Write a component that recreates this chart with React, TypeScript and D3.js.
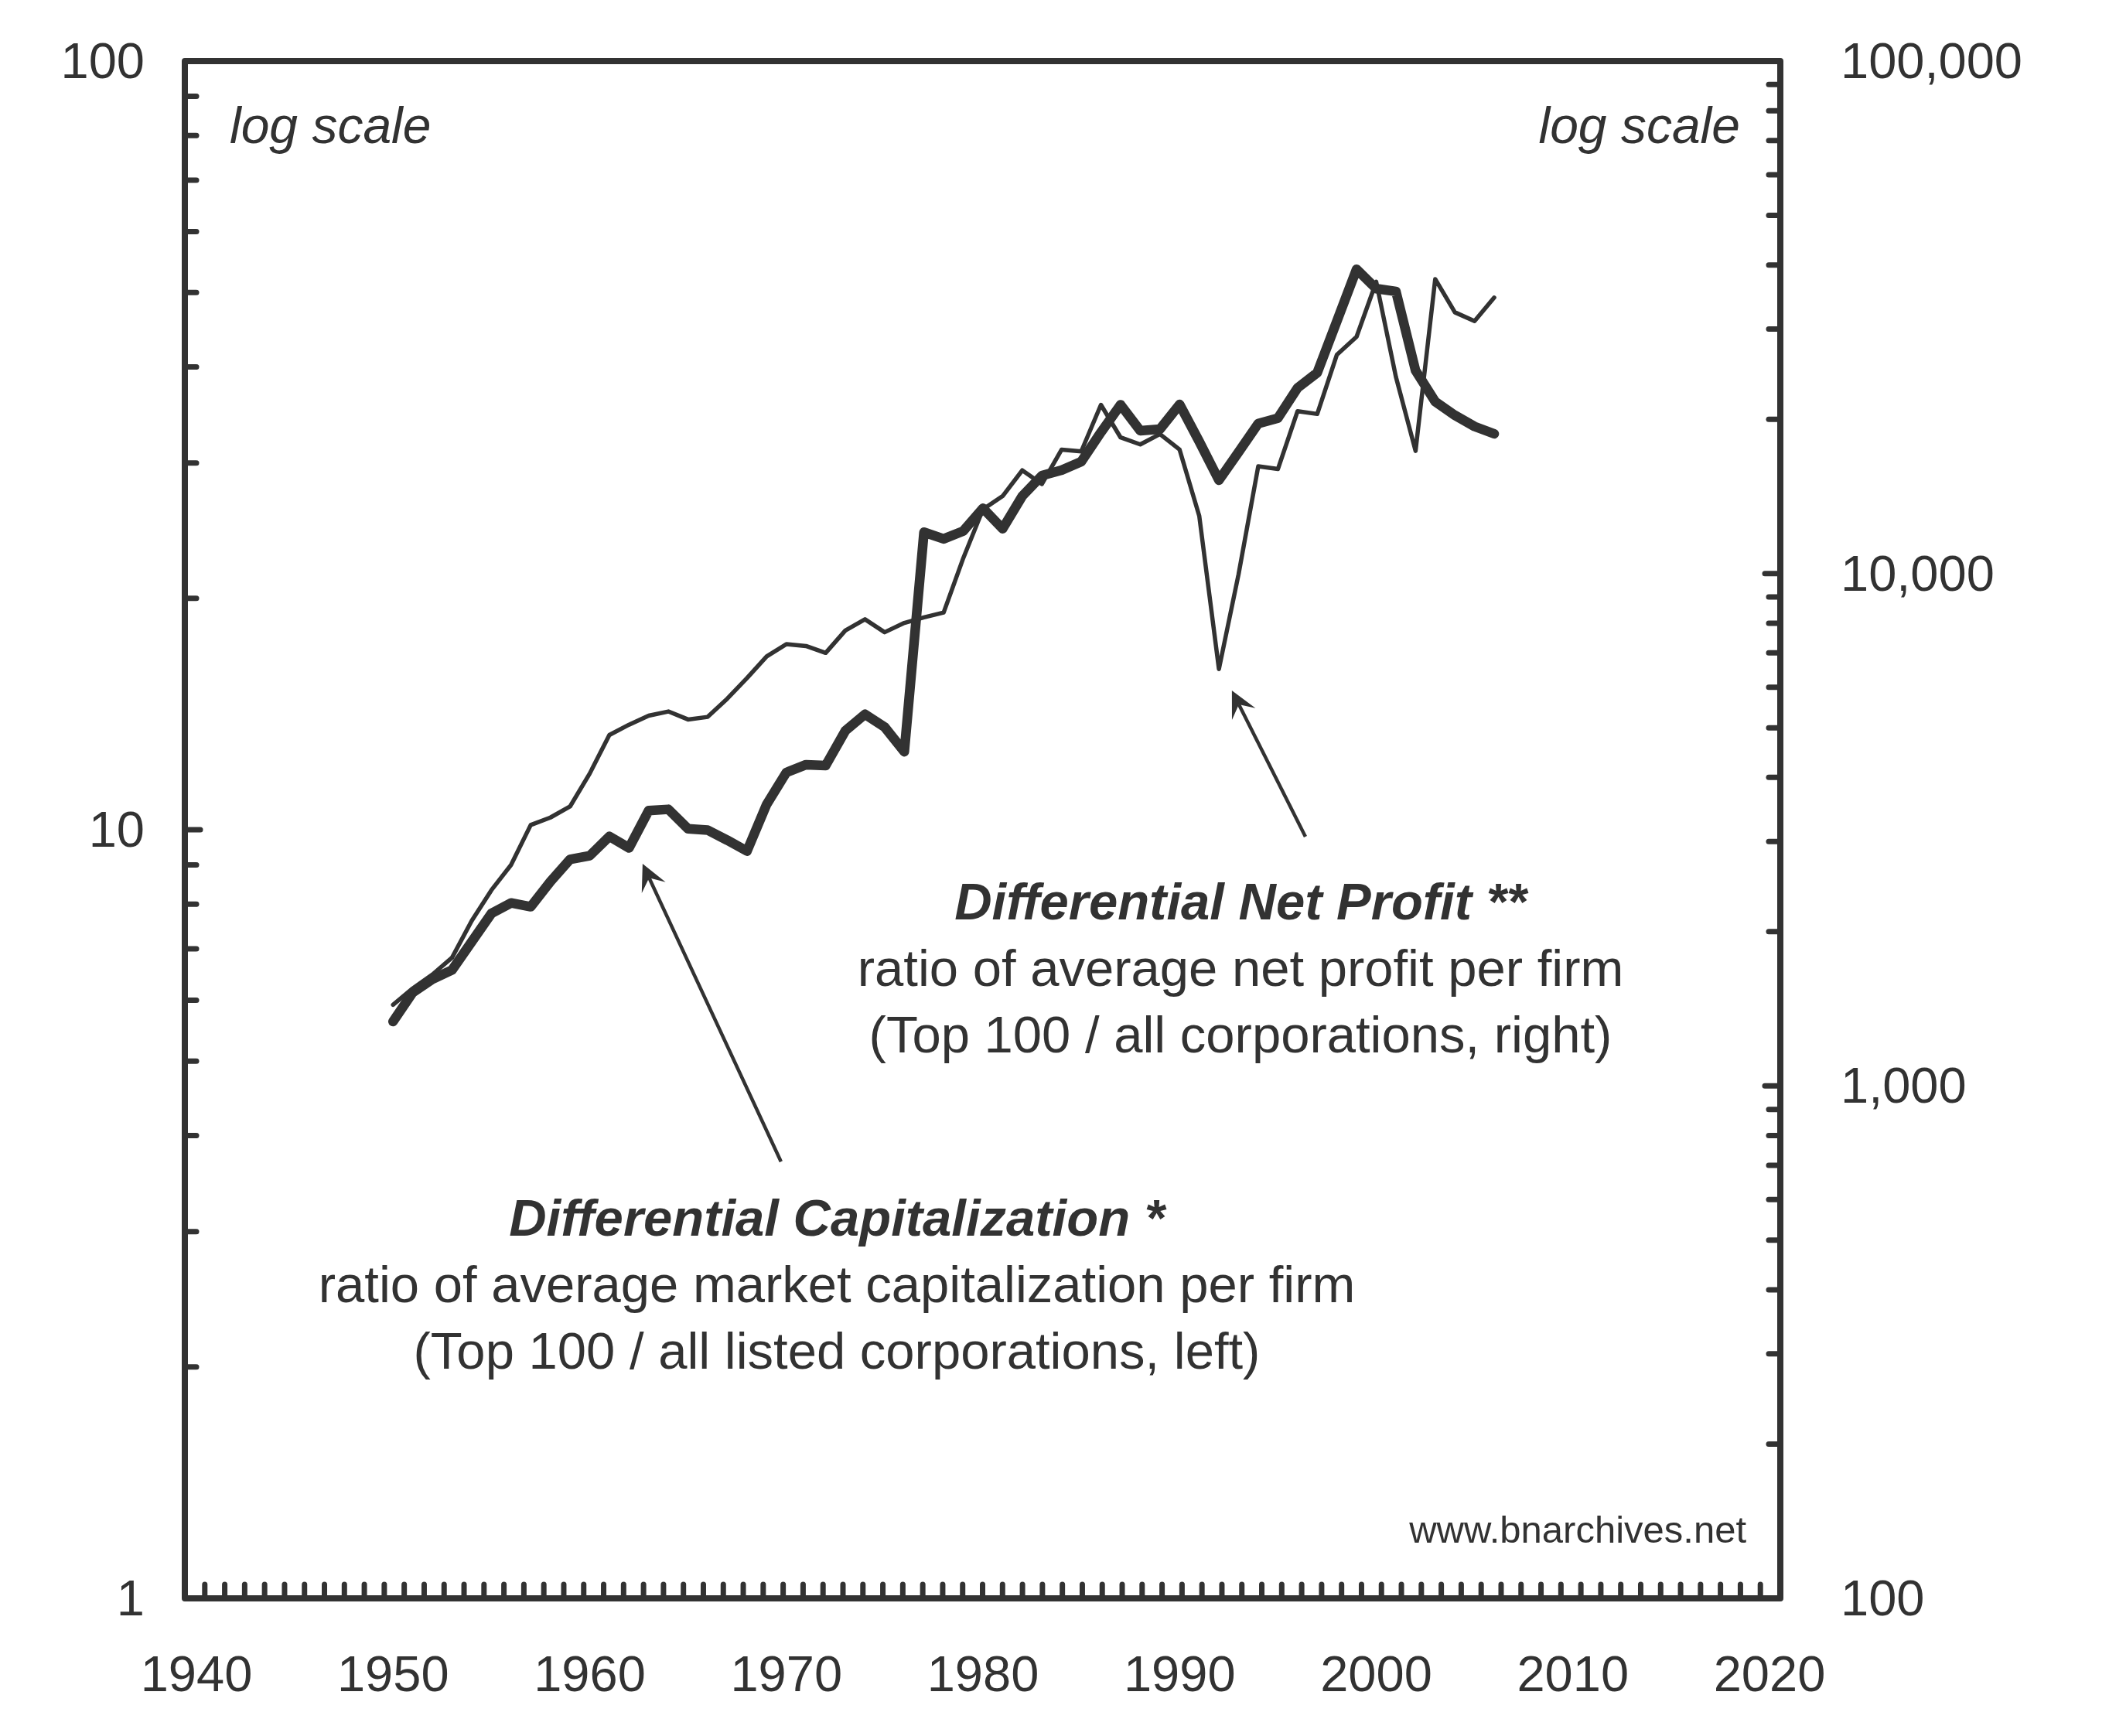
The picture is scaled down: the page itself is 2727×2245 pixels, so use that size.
import React, { useEffect, useRef } from 'react';
import * as d3 from 'd3';

// annual series, 1950-2006
const YEARS = [
  1950, 1951, 1952, 1953, 1954, 1955, 1956, 1957, 1958, 1959,
  1960, 1961, 1962, 1963, 1964, 1965, 1966, 1967, 1968, 1969,
  1970, 1971, 1972, 1973, 1974, 1975, 1976, 1977, 1978, 1979,
  1980, 1981, 1982, 1983, 1984, 1985, 1986, 1987, 1988, 1989,
  1990, 1991, 1992, 1993, 1994, 1995, 1996, 1997, 1998, 1999,
  2000, 2001, 2002, 2003, 2004, 2005, 2006,
];

// differential capitalization (left axis)
const DIFF_CAP = [
  5.63, 6.14, 6.39, 6.57, 7.15, 7.78, 8.03, 7.94, 8.56, 9.15,
  9.25, 9.8, 9.47, 10.59, 10.63, 10.03, 9.99, 9.69, 9.38, 10.79,
  11.87, 12.15, 12.12, 13.45, 14.13, 13.6, 12.63, 24.38, 23.9, 24.47,
  26.2, 24.64, 27.17, 28.89, 29.36, 30.12, 32.89, 35.72, 33.05, 33.2,
  35.75, 31.99, 28.49, 31.0, 33.76, 34.32, 37.57, 39.32, 45.88, 53.59,
  50.58, 50.16, 39.57, 36.06, 34.61, 33.47, 32.74,
];

// differential net profit (right axis)
const DIFF_PROFIT = [
  1440, 1550, 1650, 1780, 2100, 2410, 2700, 3230, 3340, 3510,
  4070, 4840, 5070, 5280, 5380, 5190, 5250, 5700, 6250, 6890,
  7280, 7220, 7000, 7740, 8140, 7680, 8010, 8210, 8390, 10720,
  13340, 14160, 15900, 14950, 17450, 17310, 21340, 18430, 17860, 18710,
  17450, 12950, 6510, 9970, 16190, 15990, 20740, 20480, 26730, 28970,
  37090, 24210, 17350, 37540, 32340, 31080, 34550,
];

const X_LABELS = [1940, 1950, 1960, 1970, 1980, 1990, 2000, 2010, 2020];
const LEFT_LABELS = [1, 10, 100];
const RIGHT_LABELS = [100, 1000, 10000, 100000];

const WIDTH = 2727;
const HEIGHT = 2245;
const frame = { left: 239, right: 2302, top: 79, bottom: 2067 };
const INK = '#323232';
const FONT = '"Liberation Sans", Arial, Helvetica, sans-serif';

const App = () => {
  const svgRef = useRef(null);

  useEffect(() => {
    const svg = d3.select(svgRef.current);
    svg.selectAll('*').remove();

    // ticks run along the frame; the series and year labels use a slightly inset span
    const xFrame = d3.scaleLinear().domain([1940, 2020]).range([frame.left, frame.right]);
    const x = d3.scaleLinear().domain([1940, 2020]).range([254, 2288]);
    const yLeft = d3.scaleLog().domain([1, 100]).range([frame.bottom, frame.top]);
    const yRight = d3.scaleLog().domain([100, 100000]).range([frame.bottom, frame.top]);

    const g = svg.append('g')
      .attr('fill', INK)
      .style('font-family', FONT);

    // minor ticks
    const ticks = g.append('g')
      .attr('stroke', INK)
      .attr('stroke-width', 7)
      .attr('stroke-linecap', 'round');

    ticks.selectAll('line.xt')
      .data(d3.range(1941, 2020))
      .join('line')
      .attr('class', 'xt')
      .attr('x1', d => xFrame(d))
      .attr('x2', d => xFrame(d))
      .attr('y1', frame.bottom)
      .attr('y2', frame.bottom - 18);

    const isMajor = v => Math.abs(Math.log10(v) - Math.round(Math.log10(v))) < 1e-9;

    ticks.selectAll('line.yl')
      .data(yLeft.ticks().filter(v => v > 1 && v < 100))
      .join('line')
      .attr('class', 'yl')
      .attr('x1', frame.left)
      .attr('x2', d => frame.left + (isMajor(d) ? 20 : 15))
      .attr('y1', d => yLeft(d))
      .attr('y2', d => yLeft(d));

    ticks.selectAll('line.yr')
      .data(yRight.ticks().filter(v => v > 100 && v < 100000))
      .join('line')
      .attr('class', 'yr')
      .attr('x1', frame.right)
      .attr('x2', d => frame.right - (isMajor(d) ? 20 : 15))
      .attr('y1', d => yRight(d))
      .attr('y2', d => yRight(d));

    // frame
    g.append('rect')
      .attr('x', frame.left)
      .attr('y', frame.top)
      .attr('width', frame.right - frame.left)
      .attr('height', frame.bottom - frame.top)
      .attr('fill', 'none')
      .attr('stroke', INK)
      .attr('stroke-width', 8)
      .attr('stroke-linejoin', 'round');

    // axis labels
    g.selectAll('text.xl')
      .data(X_LABELS)
      .join('text')
      .attr('class', 'xl')
      .attr('x', d => x(d))
      .attr('y', 2187)
      .attr('text-anchor', 'middle')
      .style('font-size', '65px')
      .text(d => d);

    g.selectAll('text.ll')
      .data(LEFT_LABELS)
      .join('text')
      .attr('class', 'll')
      .attr('x', 187)
      .attr('y', d => yLeft(d) + 22)
      .attr('text-anchor', 'end')
      .style('font-size', '65px')
      .text(d => d3.format(',')(d));

    g.selectAll('text.rl')
      .data(RIGHT_LABELS)
      .join('text')
      .attr('class', 'rl')
      .attr('x', 2380)
      .attr('y', d => yRight(d) + 22)
      .attr('text-anchor', 'start')
      .style('font-size', '65px')
      .text(d => d3.format(',')(d));

    g.append('text')
      .attr('x', 297)
      .attr('y', 185)
      .style('font-size', '66px')
      .style('font-style', 'italic')
      .text('log scale');

    g.append('text')
      .attr('x', 2250)
      .attr('y', 185)
      .attr('text-anchor', 'end')
      .style('font-size', '66px')
      .style('font-style', 'italic')
      .text('log scale');

    g.append('text')
      .attr('x', 2258)
      .attr('y', 1995)
      .attr('text-anchor', 'end')
      .style('font-size', '49px')
      .text('www.bnarchives.net');

    // series
    const profitLine = d3.line()
      .x((d, i) => x(YEARS[i]))
      .y(d => yRight(d));

    const capLine = d3.line()
      .x((d, i) => x(YEARS[i]))
      .y(d => yLeft(d));

    g.append('path')
      .datum(DIFF_PROFIT)
      .attr('d', profitLine)
      .attr('fill', 'none')
      .attr('stroke', INK)
      .attr('stroke-width', 5.5)
      .attr('stroke-linejoin', 'round')
      .attr('stroke-linecap', 'round');

    g.append('path')
      .datum(DIFF_CAP)
      .attr('d', capLine)
      .attr('fill', 'none')
      .attr('stroke', INK)
      .attr('stroke-width', 12.5)
      .attr('stroke-linejoin', 'round')
      .attr('stroke-linecap', 'round');

    // annotation arrows, tail -> tip
    const arrow = (tail, tip) => {
      const dx = tail[0] - tip[0];
      const dy = tail[1] - tip[1];
      const len = Math.hypot(dx, dy);
      const ux = dx / len, uy = dy / len;
      const nx = -uy, ny = ux;
      const back = 34, half = 17, notch = 20;
      g.append('line')
        .attr('x1', tail[0])
        .attr('y1', tail[1])
        .attr('x2', tip[0] + ux * notch)
        .attr('y2', tip[1] + uy * notch)
        .attr('stroke', INK)
        .attr('stroke-width', 4.5);
      const head = [
        [tip[0], tip[1]],
        [tip[0] + ux * back + nx * half, tip[1] + uy * back + ny * half],
        [tip[0] + ux * notch, tip[1] + uy * notch],
        [tip[0] + ux * back - nx * half, tip[1] + uy * back - ny * half],
      ];
      g.append('path')
        .attr('d', 'M' + head.map(p => p.join(',')).join('L') + 'Z')
        .attr('fill', INK);
    };

    arrow([x(1969.73), yLeft(3.7)], [x(1962.69), yLeft(9.03)]);
    arrow([x(1996.4), yRight(3065)], [x(1992.66), yRight(5909)]);

    // series captions
    const caption = (cx, top, lines) => {
      lines.forEach((t, i) => {
        g.append('text')
          .attr('x', cx)
          .attr('y', top + i * 86)
          .attr('text-anchor', 'middle')
          .style('font-size', '67px')
          .style('font-weight', i === 0 ? 'bold' : 'normal')
          .style('font-style', i === 0 ? 'italic' : 'normal')
          .text(t);
      });
    };

    caption(1604, 1189, [
      'Differential Net Profit **',
      'ratio of average net profit per firm',
      '(Top 100 / all corporations, right)',
    ]);

    caption(1082, 1598, [
      'Differential Capitalization *',
      'ratio of average market capitalization per firm',
      '(Top 100 / all listed corporations, left)',
    ]);
  }, []);

  return (
    <svg
      ref={svgRef}
      width={WIDTH}
      height={HEIGHT}
      viewBox={`0 0 ${WIDTH} ${HEIGHT}`}
      style={{ position: 'absolute', left: 0, top: 0, background: '#fff' }}
    />
  );
};

export default App;
